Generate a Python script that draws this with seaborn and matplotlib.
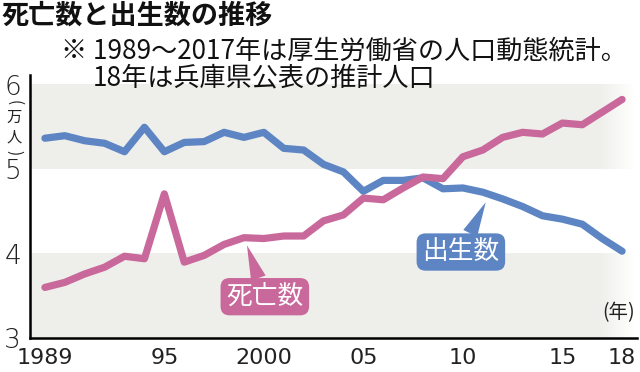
import numpy as np
import pandas as pd
import matplotlib
matplotlib.use("Agg")
import matplotlib.pyplot as plt
import seaborn as sns

# ---- data ----
years = list(range(1989, 2019))
births = [5.37, 5.40, 5.34, 5.31, 5.21, 5.50, 5.21, 5.32, 5.33, 5.44,
          5.38, 5.44, 5.25, 5.23, 5.06, 4.97, 4.74, 4.87, 4.87, 4.90,
          4.77, 4.78, 4.73, 4.65, 4.56, 4.45, 4.41, 4.35, 4.18, 4.03]
deaths = [3.60, 3.66, 3.76, 3.84, 3.97, 3.94, 4.71, 3.90, 3.98, 4.11,
          4.19, 4.18, 4.21, 4.21, 4.39, 4.46, 4.66, 4.64, 4.78, 4.91,
          4.89, 5.15, 5.23, 5.38, 5.44, 5.42, 5.55, 5.53, 5.68, 5.83]
xtick_pos = [1989, 1995, 2000, 2005, 2010, 2015, 2018]
xtick_labels = ["1989", "95", "2000", "05", "10", "15", "18"]
ytick_pos = [3, 4, 5, 6]
ytick_labels = ["3", "4", "5", "6"]
title = "死亡数と出生数の推移"
note1 = "※ 1989～2017年は厚生労働省の人口動態統計。"
note2 = "18年は兵庫県公表の推計人口"

BLUE = "#5d85c3"
PINK = "#c9689b"
BAND = (0.937, 0.937, 0.918)

sns.set_style("white")
plt.rcParams["font.family"] = ["Noto Sans CJK JP", "DejaVu Sans"]

df = pd.DataFrame({"year": years, "births": births, "deaths": deaths})

fig = plt.figure(figsize=(6.4, 3.72), dpi=100)
ax = fig.add_axes([30 / 640, 1 - 338 / 372, (637 - 30) / 640, (338 - 75) / 372])

# background bands with fade at right
N = 400
grad = np.ones((1, N, 4))
grad[..., :3] = BAND
xs = np.linspace(1988.25, 2018.6, N)
alpha = np.clip((2018.6 - xs) / 1.8, 0, 1)
grad[0, :, 3] = alpha
for lo, hi in [(5, 6), (3, 4)]:
    ax.imshow(grad, extent=(1988.25, 2018.6, lo, hi), aspect="auto", zorder=0,
              interpolation="bilinear")

sns.lineplot(data=df, x="year", y="births", color=BLUE, lw=5.2, ax=ax,
             solid_capstyle="round", solid_joinstyle="round", zorder=3)
sns.lineplot(data=df, x="year", y="deaths", color=PINK, lw=5.2, ax=ax,
             solid_capstyle="round", solid_joinstyle="round", zorder=3)

ax.set_xlim(1988.25, 2018.75)
ax.set_ylim(3, 6.12)
ax.set_xlabel("")
ax.set_ylabel("")

for s in ["top", "right"]:
    ax.spines[s].set_visible(False)
for s in ["left", "bottom"]:
    ax.spines[s].set_color("black")
    ax.spines[s].set_linewidth(1.8)

xfont = ["Liberation Sans Narrow", "DejaVu Sans"]
ax.set_xticks(xtick_pos)
ax.set_xticklabels(xtick_labels, fontsize=16, family=xfont, color="#222222")
ax.set_xticks(years, minor=True)
ax.set_yticks(ytick_pos)
ax.set_yticklabels(ytick_labels, fontsize=19, family=["DejaVu Sans"],
                   fontweight="light", color="#222222")
ax.tick_params(axis="x", which="major", direction="in", length=7, width=1.6, pad=7)
ax.tick_params(axis="x", which="minor", direction="in", length=4.5, width=1.3)
ax.tick_params(axis="y", which="major", direction="in", length=5, width=1.6, pad=6.5)
ax.grid(False)

# callout labels
ax.annotate("死亡数", xy=(1999.15, 4.10), xytext=(2000.05, 3.49),
            ha="center", va="center", fontsize=18.5, color="white", zorder=5,
            bbox=dict(boxstyle="round,pad=0.22,rounding_size=0.35", fc=PINK, ec="none"),
            arrowprops=dict(arrowstyle="wedge,tail_width=0.6,shrink_factor=0.5",
                            fc=PINK, ec="none", shrinkA=0, shrinkB=0))
ax.annotate("出生数", xy=(2011.15, 4.61), xytext=(2009.9, 4.02),
            ha="center", va="center", fontsize=18.5, color="white", zorder=5,
            bbox=dict(boxstyle="round,pad=0.22,rounding_size=0.35", fc=BLUE, ec="none"),
            arrowprops=dict(arrowstyle="wedge,tail_width=0.6,shrink_factor=0.5",
                            fc=BLUE, ec="none", shrinkA=0, shrinkB=0))

# unit labels
ax.text(2017.8, 3.30, "(年)", ha="center", va="center", fontsize=14, color="#222222")
for ch, yp, rot in [("(", 103, -90), ("万", 117, 0), ("人", 137, 0), (")", 153, -90)]:
    fig.text(14 / 640, 1 - yp / 372, ch, ha="center", va="center", fontsize=11,
             rotation=rot, color="#222222")

# titles
fig.text(0.003, 0.997, title, ha="left", va="top", fontsize=19.5, fontweight="bold",
         color="#111111")
fig.text(61 / 640, 1 - 51 / 372, note1, ha="left", va="center", fontsize=18.8,
         color="#111111")
fig.text(93 / 640, 1 - 78 / 372, note2, ha="left", va="center", fontsize=18.8,
         color="#111111")

fig.savefig("out.png", dpi=100)
